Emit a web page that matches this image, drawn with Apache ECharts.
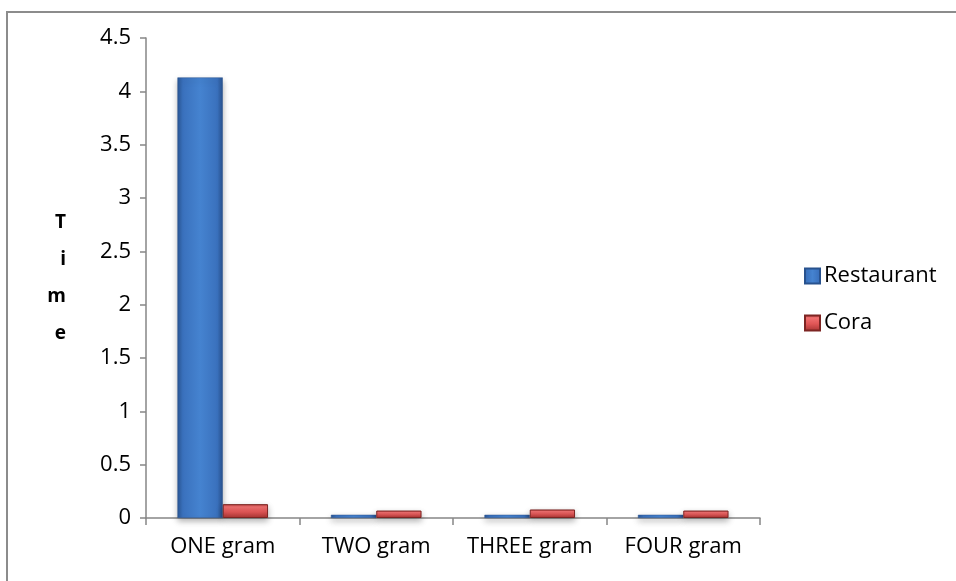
<!DOCTYPE html>
<html>
<head>
<meta charset="utf-8">
<script src="https://cdn.jsdelivr.net/npm/echarts@6/dist/echarts.min.js"></script>
<style>
  html, body { margin: 0; padding: 0; background: #fff; }
  #chart { width: 956px; height: 581px; }
</style>
</head>
<body>
<div id="chart"></div>
<script>
// Categories and timings per gram count
const categories = ['ONE gram', 'TWO gram', 'THREE gram', 'FOUR gram'];
const restaurant = [4.13, 0.03, 0.03, 0.03];
const cora = [0.13, 0.07, 0.08, 0.07];
const seriesNames = ['Restaurant', 'Cora'];

const font = 'Open Sans';
const labelSize = 22;

// Bevelled fills for the two series
const blueFill = new echarts.graphic.LinearGradient(0, 0, 1, 0, [
  { offset: 0, color: '#2a5796' },
  { offset: 0.12, color: '#3a71bd' },
  { offset: 0.5, color: '#4583d0' },
  { offset: 0.88, color: '#3a71bd' },
  { offset: 1, color: '#28528e' }
]);
const redFill = new echarts.graphic.LinearGradient(0, 0, 0, 1, [
  { offset: 0, color: '#b33c3a' },
  { offset: 0.2, color: '#f07070' },
  { offset: 0.55, color: '#e05656' },
  { offset: 1, color: '#a63331' }
]);

const chart = echarts.init(document.getElementById('chart'), null, { renderer: 'canvas' });

chart.setOption({
  backgroundColor: '#fff',
  animation: false,
  textStyle: { fontFamily: font },
  graphic: [{
    type: 'rect',
    shape: { x: 7, y: 12, width: 1200, height: 800 },
    style: { fill: 'none', stroke: '#8c8c8c', lineWidth: 2 },
    silent: true
  }],
  grid: { left: 146, right: 196, top: 38, bottom: 63 },
  legend: {
    data: seriesNames,
    orient: 'vertical',
    left: 799,
    top: 260,
    itemWidth: 15,
    itemHeight: 15,
    itemGap: 25,
    icon: 'rect',
    textStyle: { fontFamily: font, fontSize: labelSize, color: '#000', padding: [0, 0, 0, -1] }
  },
  xAxis: {
    type: 'category',
    data: categories,
    axisLine: { lineStyle: { color: '#868686', width: 1.5 } },
    axisTick: { show: true, length: 7, lineStyle: { color: '#868686', width: 1.5 } },
    axisLabel: { color: '#000', fontSize: labelSize, fontFamily: font, margin: 18, interval: 0 }
  },
  yAxis: {
    type: 'value',
    min: 0,
    max: 4.5,
    interval: 0.5,
    name: 'T\ni\nm\ne',
    nameLocation: 'middle',
    nameRotate: 0,
    nameGap: 80,
    nameTextStyle: {
      fontFamily: font, fontSize: 19, fontWeight: 'bold', color: '#000',
      lineHeight: 37, padding: [20, 0, 0, 0]
    },
    axisLine: { show: true, lineStyle: { color: '#868686', width: 1.5 } },
    axisTick: { show: true, length: 6, lineStyle: { color: '#868686', width: 1.5 } },
    splitLine: { show: false },
    axisLabel: { color: '#000', fontSize: labelSize, fontFamily: font, margin: 15 }
  },
  series: [
    {
      name: seriesNames[0],
      type: 'bar',
      data: restaurant,
      barGap: '0%',
      barCategoryGap: '41%',
      itemStyle: {
        color: blueFill,
        borderColor: '#28528e',
        borderWidth: 0.5,
        shadowColor: 'rgba(0,0,0,0.3)',
        shadowBlur: 6,
        shadowOffsetY: 3
      }
    },
    {
      name: seriesNames[1],
      type: 'bar',
      data: cora,
      itemStyle: {
        color: redFill,
        borderColor: '#7d2523',
        borderWidth: 1,
        shadowColor: 'rgba(0,0,0,0.3)',
        shadowBlur: 6,
        shadowOffsetY: 3
      }
    }
  ]
});
</script>
</body>
</html>
